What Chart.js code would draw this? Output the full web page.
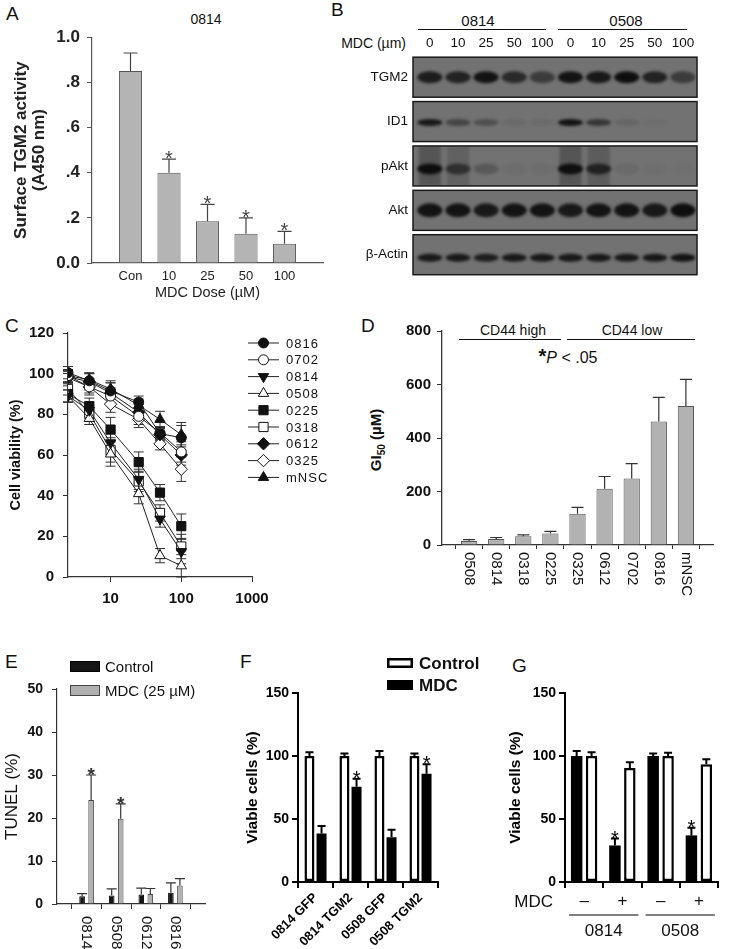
<!DOCTYPE html>
<html>
<head>
<meta charset="utf-8">
<script src="https://cdn.jsdelivr.net/npm/chart.js@4.4.1/dist/chart.umd.min.js"></script>
<style>
  body { margin: 0; width: 749px; height: 949px; position: relative; overflow: hidden; background: #fff;
         font-family: 'Liberation Sans', Arial, sans-serif; color: #111; }
  canvas { position: absolute; }
  .t { position: absolute; white-space: nowrap; transform: translate(-50%, -50%); }
  .lt { position: absolute; font-size: 19px; line-height: 1; }
  .hl { position: absolute; height: 0; border-top: 1.5px solid #111; }
</style>
</head>
<body>

<div class="lt" style="left:6px;top:4px">A</div>
<div class="lt" style="left:331px;top:0px">B</div>
<div class="lt" style="left:5px;top:316px">C</div>
<div class="lt" style="left:361px;top:316px">D</div>
<div class="lt" style="left:5px;top:652px">E</div>
<div class="lt" style="left:240px;top:652px">F</div>
<div class="lt" style="left:512px;top:656px">G</div>

<div class="t" style="left:206px;top:19px;font-size:14px">0814</div>

<div class="t" style="left:478px;top:20px;font-size:15px">0814</div>
<div class="hl" style="left:418px;top:29px;width:128px"></div>
<div class="t" style="left:626px;top:20px;font-size:15px">0508</div>
<div class="hl" style="left:558px;top:29px;width:129px"></div>
<div style="position:absolute;right:343px;top:35px;font-size:14px">MDC (µm)</div>

<div class="t" style="left:513px;top:330px;font-size:14px">CD44 high</div>
<div class="hl" style="left:459px;top:339px;width:102px"></div>
<div class="t" style="left:632px;top:330px;font-size:14px">CD44 low</div>
<div class="hl" style="left:567px;top:339px;width:128px"></div>
<div class="t" style="left:568px;top:356px;font-size:16px"><b style="font-size:20px">*</b><i>P</i> &lt; .05</div>
<div class="t" style="left:377px;top:440px;transform:translate(-50%,-50%) rotate(-90deg);font-weight:bold;font-size:15px">GI<sub style="font-size:10px">50</sub> (µM)</div>

<canvas id="cA" width="335" height="290" style="left:0;top:20px"></canvas>
<canvas id="cB" width="380" height="290" style="left:330px;top:0"></canvas>
<canvas id="cC" width="345" height="290" style="left:0;top:315px"></canvas>
<canvas id="cD" width="345" height="290" style="left:380px;top:315px"></canvas>
<canvas id="cE" width="215" height="299" style="left:0;top:650px"></canvas>
<canvas id="cF" width="245" height="299" style="left:245px;top:650px"></canvas>
<canvas id="cG" width="252" height="299" style="left:497px;top:650px"></canvas>

<script>
// ---- A: surface TGM2 activity
const aDoses = ['Con', '10', '25', '50', '100'];
const aActivity = [0.85, 0.40, 0.185, 0.13, 0.085];
const aSd = [0.08, 0.06, 0.075, 0.07, 0.055];
const aStar = [false, true, true, true, true];
const aTicks = ['0.0', '.2', '.4', '.6', '.8', '1.0'];

// ---- B: western blot (band intensity 0..1 per lane)
const blotLanes = ['0', '10', '25', '50', '100', '0', '10', '25', '50', '100'];
const blotRows = ['TGM2', 'ID1', 'pAkt', 'Akt', 'β-Actin'];
const bandTGM2 = [0.85, 0.8, 0.95, 0.72, 0.55, 0.95, 0.9, 1.0, 0.8, 0.55];
const bandID1 = [0.9, 0.45, 0.35, 0.08, 0.07, 0.95, 0.6, 0.12, 0.04, 0.0];
const bandPAkt = [1.0, 0.6, 0.25, 0.05, 0.05, 1.0, 0.75, 0.08, 0.04, 0.02];
const bandAkt = [0.95, 0.95, 0.9, 0.95, 0.95, 0.9, 0.95, 0.95, 0.9, 1.0];
const bandActin = [0.9, 0.9, 0.85, 0.9, 0.9, 0.9, 0.9, 0.9, 0.9, 0.95];

// ---- C: viability curves
const cDoses = [2.5, 5, 10, 25, 50, 100];
const cXTicks = [10, 100, 1000];
const cLines = ['0816', '0702', '0814', '0508', '0225', '0318', '0612', '0325', 'mNSC'];
const v0816 = [100.5, 96.5, 91.5, 86, 70.5, 68.5];
const v0702 = [99, 93.5, 89, 79, 71, 61.5];
const v0814 = [89, 82, 66, 48, 28.5, 12.5];
const v0508 = [89, 78, 60.5, 41, 10.5, 5.5];
const v0225 = [90, 84, 72.5, 56.5, 41.5, 25];
const v0318 = [92.5, 80.5, 62.5, 47, 31.5, 15];
const v0612 = [98.5, 96, 90.5, 81, 70, 60];
const v0325 = [98, 93.5, 85, 77.5, 65.5, 53];
const vMNSC = [99, 97, 92.5, 84.5, 77.5, 70];
const s0816 = [3, 4, 4, 3, 3, 6];
const s0702 = [3, 4, 4, 4, 3, 5];
const s0814 = [3, 4, 6, 5, 4, 6];
const s0508 = [3, 3, 6, 5, 3.5, 5.5];
const s0225 = [4, 4, 6, 5, 4, 6];
const s0318 = [3, 4, 6, 5, 4, 6];
const s0612 = [3, 4, 5, 4, 3, 5];
const s0325 = [3, 3, 4, 4, 3, 6];
const sMNSC = [3, 3, 4, 3, 4, 6];

// ---- D: GI50
const dCells = ['0508', '0814', '0318', '0225', '0325', '0612', '0702', '0816', 'mNSC'];
const dGi50 = [15, 22, 33, 43, 117, 210, 249, 462, 520];
const dSd = [5, 6, 5, 8, 24, 46, 55, 90, 99];

// ---- E: TUNEL
const eCells = ['0814', '0508', '0612', '0816'];
const eControl = [1.8, 2.0, 2.2, 2.6];
const eControlSd = [0.6, 1.5, 1.5, 2.3];
const eMdc = [24.2, 19.8, 2.3, 4.3];
const eMdcSd = [5.8, 3.5, 1.3, 1.6];
const eStar = [true, true, false, false];

// ---- F: TGM2 rescue
const fLines = ['0814 GFP', '0814 TGM2', '0508 GFP', '0508 TGM2'];
const fControl = [100, 100, 100, 100];
const fControlSd = [3, 2, 4, 2];
const fMdc = [38.5, 75.5, 35.5, 86];
const fMdcSd = [6, 6.5, 6, 7.5];
const fStar = [false, true, false, true];

// ---- G: CD44 sorted
const gMdc = ['–', '+', '–', '+'];
const gGroups = ['0814', '0508'];
const gPos = [100, 29, 100, 37];
const gPosSd = [4, 5.5, 2, 6];
const gNeg = [100, 90.5, 100, 93.5];
const gNegSd = [3, 4.5, 2.5, 4];
const gStar = [false, true, false, true];

Chart.defaults.font.family = "'Liberation Sans', Arial, sans-serif";
Chart.defaults.color = '#111';
Chart.defaults.animation = false;
Chart.defaults.responsive = false;
Chart.defaults.events = [];
Chart.defaults.plugins.legend.display = false;
Chart.defaults.plugins.tooltip.enabled = false;

// upper error bars + significance stars on bar charts
const errPlugin = {
  id: 'err',
  afterDatasetsDraw(chart, args, o) {
    const ctx = chart.ctx, ys = chart.scales.y;
    ctx.save();
    ctx.strokeStyle = o.color;
    ctx.fillStyle = o.color;
    ctx.lineWidth = o.width;
    chart.data.datasets.forEach((ds, di) => {
      chart.getDatasetMeta(di).data.forEach((bar, i) => {
        const v = ds.data[i];
        if (v == null || !ds.sd || ds.sd[i] == null) return;
        const yTop = ys.getPixelForValue(v + ds.sd[i]);
        ctx.beginPath();
        ctx.moveTo(bar.x, bar.y);
        ctx.lineTo(bar.x, yTop);
        ctx.moveTo(bar.x - o.cap, yTop);
        ctx.lineTo(bar.x + o.cap, yTop);
        ctx.stroke();
        if (ds.star && ds.star[i]) {
          ctx.font = o.starFont;
          ctx.textAlign = 'center';
          ctx.textBaseline = 'alphabetic';
          ctx.fillText('*', bar.x, yTop + o.starDy);
        }
      });
    });
    ctx.restore();
  }
};

// x labels rotated clockwise (read top to bottom)
const vertLabels = {
  id: 'vertLabels',
  afterDraw(chart, args, o) {
    const s = chart.scales.x, ctx = chart.ctx;
    ctx.save();
    ctx.font = o.font;
    ctx.fillStyle = o.color || '#111';
    ctx.textAlign = 'left';
    ctx.textBaseline = 'middle';
    s.ticks.forEach((t, i) => {
      const label = s.getLabelForValue(t.value);
      if (!label) return;
      ctx.save();
      ctx.translate(s.getPixelForTick(i), s.top + o.gap);
      ctx.rotate(Math.PI / 2);
      ctx.fillText(label, 0, 0);
      ctx.restore();
    });
    ctx.restore();
  }
};

// box legend drawn from dataset styles
const boxLegend = {
  id: 'boxLegend',
  afterDraw(chart, args, o) {
    const ctx = chart.ctx;
    ctx.save();
    ctx.font = o.font;
    ctx.textAlign = 'left';
    ctx.textBaseline = 'middle';
    chart.data.datasets.forEach((ds, i) => {
      const y = o.y + i * o.step;
      const bw = o.border;
      ctx.fillStyle = ds.backgroundColor;
      ctx.fillRect(o.x, y, o.w, o.h);
      ctx.strokeStyle = ds.borderColor;
      ctx.lineWidth = bw;
      ctx.strokeRect(o.x + bw / 2, y + bw / 2, o.w - bw, o.h - bw);
      ctx.fillStyle = '#111';
      ctx.fillText(ds.label, o.x + o.w + o.gap, y + o.h / 2 + 1);
    });
    ctx.restore();
  }
};

function fixW(w) { return s => { s.width = w; }; }
function fixH(h) { return s => { s.height = h; }; }

// ================= A
new Chart(document.getElementById('cA'), {
  type: 'bar',
  data: {
    labels: ['', ...aDoses, ''],
    datasets: [{
      data: [null, ...aActivity, null],
      sd: [null, ...aSd, null],
      star: [false, ...aStar, false],
      backgroundColor: '#b4b4b4', borderColor: '#555', borderWidth: 1,
      barPercentage: 0.6, categoryPercentage: 1
    }]
  },
  options: {
    layout: { padding: { top: 12, right: 12, bottom: 0, left: 0 } },
    plugins: { err: { color: '#444', width: 1.2, cap: 7, starFont: '20px Liberation Sans', starDy: 6 } },
    scales: {
      x: {
        offset: false,
        grid: { display: false, tickLength: 0 },
        border: { color: '#555', width: 1.2 },
        ticks: { font: { size: 13 }, color: '#222', padding: 6, maxRotation: 0, autoSkip: false },
        title: { display: true, text: 'MDC Dose (µM)', font: { size: 14.5 }, color: '#222', padding: { top: 0, bottom: 8 } },
        afterFit: fixH(47)
      },
      y: {
        min: 0, max: 1,
        ticks: { stepSize: 0.2, callback: (v, i) => aTicks[i], font: { size: 17, weight: 'bold' }, color: '#222', padding: 7 },
        grid: { drawOnChartArea: false, tickLength: 5, color: '#555' },
        border: { color: '#555', width: 1.2 },
        title: { display: true, text: ['Surface TGM2 activity', '(A450 nm)'], font: { size: 17, weight: 'bold', lineHeight: 1.08 }, color: '#222', padding: { top: 12, bottom: 0 } },
        afterFit: fixW(92)
      }
    }
  },
  plugins: [errPlugin]
});

// ================= B (blot: one scatter dataset per row, bands drawn at the point positions)
const blotBands = [bandTGM2, bandID1, bandPAkt, bandAkt, bandActin];
const blotShape = { TGM2: [12, 0], ID1: [7, 1], pAkt: [11, 3], Akt: [14, 0], 'β-Actin': [8, 3] };
const blotPlugin = {
  id: 'blot',
  beforeDatasetsDraw(chart) {
    const { ctx, chartArea: a } = chart;
    chart.data.datasets.forEach((ds, r) => {
      const pts = chart.getDatasetMeta(r).data;
      const cy = pts[0].y;
      const [bh, dy] = blotShape[ds.label];
      ctx.save();
      ctx.fillStyle = '#727272';
      ctx.fillRect(a.left, cy - 20, a.right - a.left, 40);
      ctx.beginPath();
      ctx.rect(a.left, cy - 20, a.right - a.left, 40);
      ctx.clip();
      ctx.filter = 'blur(1.6px)';
      pts.forEach((p, i) => {
        const v = ds.data[i].v;
        if (v <= 0) return;
        if (ds.label === 'pAkt' && v > 0.5) {
          ctx.fillStyle = `rgba(20,20,20,${v * 0.3})`;
          ctx.fillRect(p.x - 11, cy - 20, 22, 40);
        }
        ctx.fillStyle = `rgba(14,14,14,${v})`;
        ctx.beginPath();
        ctx.ellipse(p.x, cy + dy, 12.5, bh / 2, 0, 0, Math.PI * 2);
        ctx.fill();
      });
      ctx.restore();
      ctx.strokeStyle = '#1a1a1a';
      ctx.lineWidth = 1.5;
      ctx.strokeRect(a.left, cy - 20, a.right - a.left, 40);
    });
  }
};
new Chart(document.getElementById('cB'), {
  type: 'scatter',
  data: {
    datasets: blotRows.map((row, r) => ({
      label: row,
      data: blotBands[r].map((v, i) => ({ x: i + 1, y: row, v: v })),
      pointRadius: 0
    }))
  },
  options: {
    layout: { padding: { top: 0, right: 13, bottom: 4, left: 0 } },
    scales: {
      x: {
        type: 'linear', position: 'top', min: 0.4, max: 10.5,
        afterBuildTicks: s => { s.ticks = blotLanes.map((l, i) => ({ value: i + 1 })); },
        ticks: { callback: v => blotLanes[v - 1], font: { size: 13.5 }, padding: 4, maxRotation: 0, autoSkip: false },
        grid: { display: false, tickLength: 0 }, border: { display: false },
        afterFit: fixH(55)
      },
      y: {
        type: 'category', labels: blotRows, offset: true,
        ticks: { font: { size: 13.5 }, padding: 5 },
        grid: { display: false, tickLength: 0 }, border: { display: false },
        afterFit: fixW(83)
      }
    }
  },
  plugins: [blotPlugin]
});

// ================= C
const cVals = [v0816, v0702, v0814, v0508, v0225, v0318, v0612, v0325, vMNSC];
const cSds = [s0816, s0702, s0814, s0508, s0225, s0318, s0612, s0325, sMNSC];
const cMarks = [
  ['circle', true, 0, 5], ['circle', false, 0, 5], ['triangle', true, 180, 6], ['triangle', false, 0, 6],
  ['rect', true, 0, 6.5], ['rect', false, 0, 6.5], ['rectRot', true, 0, 6.2], ['rectRot', false, 0, 6.2],
  ['triangle', true, 0, 6]
];
const cErr = {
  id: 'cErr',
  beforeDatasetsDraw(chart) {
    const ctx = chart.ctx, ys = chart.scales.y;
    ctx.save();
    ctx.strokeStyle = '#333';
    ctx.lineWidth = 1;
    chart.data.datasets.forEach((ds, di) => {
      chart.getDatasetMeta(di).data.forEach((p, i) => {
        const v = ds.data[i].y, e = ds.sd[i];
        const y1 = ys.getPixelForValue(v + e), y2 = ys.getPixelForValue(Math.max(v - e, 0));
        ctx.beginPath();
        ctx.moveTo(p.x, y1); ctx.lineTo(p.x, y2);
        ctx.moveTo(p.x - 5, y1); ctx.lineTo(p.x + 5, y1);
        ctx.moveTo(p.x - 5, y2); ctx.lineTo(p.x + 5, y2);
        ctx.stroke();
      });
    });
    ctx.restore();
  }
};
const cLegend = {
  id: 'cLegend',
  afterDraw(chart) {
    const ctx = chart.ctx;
    ctx.save();
    ctx.font = '13px Liberation Sans';
    ctx.letterSpacing = '1px';
    ctx.textBaseline = 'middle';
    chart.data.datasets.forEach((ds, i) => {
      const y = 28 + i * 16.8;
      ctx.strokeStyle = '#222';
      ctx.lineWidth = 1;
      ctx.beginPath(); ctx.moveTo(248, y); ctx.lineTo(279, y); ctx.stroke();
      ctx.fillStyle = ds.pointBackgroundColor;
      ctx.strokeStyle = '#111';
      Chart.helpers.drawPoint(ctx, { pointStyle: ds.pointStyle, radius: ds.pointRadius, rotation: ds.pointRotation, borderWidth: 1 }, 263.5, y);
      ctx.fillStyle = '#111';
      ctx.fillText(ds.label, 286, y + 1);
    });
    ctx.restore();
  }
};
new Chart(document.getElementById('cC'), {
  type: 'line',
  data: {
    datasets: cLines.map((name, k) => ({
      label: name,
      data: cDoses.map((d, i) => ({ x: d, y: cVals[k][i] })),
      sd: cSds[k],
      borderColor: '#222', borderWidth: 1,
      pointStyle: cMarks[k][0], pointRotation: cMarks[k][2], pointRadius: cMarks[k][3],
      pointBackgroundColor: cMarks[k][1] ? '#111' : '#fff', pointBorderColor: '#111', pointBorderWidth: 1
    }))
  },
  options: {
    layout: { padding: { top: 17, right: 93, bottom: 0, left: 0 } },
    scales: {
      x: {
        type: 'logarithmic', min: 2.5, max: 1000,
        afterBuildTicks: s => { s.ticks = cXTicks.map(v => ({ value: v })); },
        ticks: { callback: v => String(v), font: { size: 15, weight: 'bold' }, padding: 8, maxRotation: 0 },
        grid: { drawOnChartArea: false, tickLength: 5, color: '#333' },
        border: { color: '#333', width: 1.2 },
        afterFit: fixH(28)
      },
      y: {
        min: 0, max: 120,
        ticks: { stepSize: 20, font: { size: 15, weight: 'bold' }, padding: 9 },
        grid: { drawOnChartArea: false, tickLength: 5, color: '#333' },
        border: { color: '#333', width: 1.2 },
        title: { display: true, text: 'Cell viability (%)', font: { size: 14.5, weight: 'bold' }, padding: { top: 7, bottom: 0 } },
        afterFit: fixW(68)
      }
    }
  },
  plugins: [cErr, cLegend]
});

// ================= D
new Chart(document.getElementById('cD'), {
  type: 'bar',
  data: {
    labels: ['', ...dCells, ''],
    datasets: [{
      data: [null, ...dGi50, null],
      sd: [null, ...dSd, null],
      backgroundColor: '#b2b2b2', borderColor: '#555', borderWidth: 1,
      barPercentage: 0.6, categoryPercentage: 1
    }]
  },
  options: {
    layout: { padding: { top: 16, right: 12, bottom: 0, left: 0 } },
    plugins: {
      err: { color: '#333', width: 1.2, cap: 6, starFont: '18px Liberation Sans', starDy: 5 },
      vertLabels: { font: '15px Liberation Sans', gap: 7 }
    },
    scales: {
      x: {
        offset: false,
        afterBuildTicks: s => { s.ticks = s.ticks.filter(t => t.value > 0 && t.value <= dCells.length); },
        ticks: { display: false },
        grid: { drawOnChartArea: false, tickLength: 4, color: '#333' },
        border: { color: '#333', width: 1.3 },
        afterFit: fixH(60)
      },
      y: {
        min: 0, max: 800,
        ticks: { stepSize: 200, font: { size: 15, weight: 'bold' }, padding: 6 },
        grid: { drawOnChartArea: false, tickLength: 5, color: '#333' },
        border: { color: '#333', width: 1.3 },
        afterFit: fixW(62)
      }
    }
  },
  plugins: [errPlugin, vertLabels]
});

// ================= E
new Chart(document.getElementById('cE'), {
  type: 'bar',
  data: {
    labels: ['', ...eCells, ''],
    datasets: [
      { label: 'Control', data: [null, ...eControl, null], sd: [null, ...eControlSd, null],
        backgroundColor: '#151515', borderColor: '#000', borderWidth: 1 },
      { label: 'MDC (25 µM)', data: [null, ...eMdc, null], sd: [null, ...eMdcSd, null], star: [false, ...eStar, false],
        backgroundColor: '#b0b0b0', borderColor: '#444', borderWidth: 1 }
    ]
  },
  options: {
    datasets: { bar: { categoryPercentage: 0.61, barPercentage: 0.62 } },
    layout: { padding: { top: 39, right: 10, bottom: 0, left: 0 } },
    plugins: {
      err: { color: '#333', width: 1.2, cap: 5, starFont: 'bold 19px Liberation Sans', starDy: 6 },
      vertLabels: { font: '15px Liberation Sans', gap: 12 },
      boxLegend: { x: 70, y: 11, w: 30, h: 11, step: 24, gap: 5, border: 1, font: '15px Liberation Sans' }
    },
    scales: {
      x: {
        offset: false,
        afterBuildTicks: s => { s.ticks = s.ticks.filter(t => t.value > 0 && t.value <= eCells.length); },
        ticks: { display: false },
        grid: { drawOnChartArea: false, tickLength: 5, color: '#333' },
        border: { color: '#333', width: 1.2 },
        afterFit: fixH(45)
      },
      y: {
        min: 0, max: 50,
        ticks: { stepSize: 10, font: { size: 14, weight: 'bold' }, padding: 9 },
        grid: { drawOnChartArea: false, tickLength: 5, color: '#333' },
        border: { color: '#333', width: 1.2 },
        title: { display: true, text: 'TUNEL (%)', font: { size: 17 }, padding: { top: 2, bottom: 0 } },
        afterFit: fixW(57)
      }
    }
  },
  plugins: [errPlugin, vertLabels, boxLegend]
});

// ================= F
new Chart(document.getElementById('cF'), {
  type: 'bar',
  data: {
    labels: fLines,
    datasets: [
      { label: 'Control', data: fControl, sd: fControlSd, backgroundColor: '#fff', borderColor: '#000', borderWidth: 2.5, borderSkipped: false },
      { label: 'MDC', data: fMdc, sd: fMdcSd, star: fStar, backgroundColor: '#000', borderColor: '#000', borderWidth: 0 }
    ]
  },
  options: {
    datasets: { bar: { categoryPercentage: 0.69, barPercentage: 0.83 } },
    layout: { padding: { top: 43, right: 52, bottom: 0, left: 0 } },
    plugins: {
      err: { color: '#000', width: 2, cap: 4, starFont: '20px Liberation Sans', starDy: 6 },
      boxLegend: { x: 142, y: 8, w: 26, h: 10, step: 22, gap: 6, border: 2.5, font: 'bold 17px Liberation Sans' }
    },
    scales: {
      x: {
        ticks: { font: { size: 13, weight: 'bold' }, color: '#000', minRotation: 45, maxRotation: 45, padding: 2, autoSkip: false },
        grid: { drawOnChartArea: false, tickLength: 6, color: '#000', lineWidth: 2 },
        border: { color: '#000', width: 2 },
        afterFit: fixH(67)
      },
      y: {
        min: 0, max: 150,
        ticks: { stepSize: 50, font: { size: 14, weight: 'bold' }, color: '#000', padding: 3 },
        grid: { drawOnChartArea: false, tickLength: 6, color: '#000', lineWidth: 2 },
        border: { color: '#000', width: 2 },
        title: { display: true, text: 'Viable cells (%)', font: { size: 15.5, weight: 'bold' }, color: '#000', padding: { top: -2, bottom: 0 } },
        afterFit: fixW(53)
      }
    }
  },
  plugins: [errPlugin, boxLegend]
});

// ================= G
const gGroupLabels = {
  id: 'gGroups',
  afterDraw(chart) {
    const ctx = chart.ctx, s = chart.scales.x;
    ctx.save();
    ctx.font = '17px Liberation Sans';
    ctx.fillStyle = '#111';
    ctx.textBaseline = 'middle';
    ctx.textAlign = 'right';
    ctx.fillText('MDC', chart.chartArea.left - 12, 252);
    ctx.textAlign = 'center';
    ctx.strokeStyle = '#555';
    ctx.lineWidth = 1.5;
    gGroups.forEach((g, k) => {
      const x1 = s.getPixelForTick(2 * k) - 15, x2 = s.getPixelForTick(2 * k + 1) + 16;
      ctx.beginPath(); ctx.moveTo(x1, 265); ctx.lineTo(x2, 265); ctx.stroke();
      ctx.fillText(g, (x1 + x2) / 2, 281);
    });
    ctx.restore();
  }
};
new Chart(document.getElementById('cG'), {
  type: 'bar',
  data: {
    labels: gMdc,
    datasets: [
      { label: 'CD44+', data: gPos, sd: gPosSd, star: gStar, backgroundColor: '#000', borderColor: '#000', borderWidth: 0 },
      { label: 'CD44-', data: gNeg, sd: gNegSd, backgroundColor: '#fff', borderColor: '#000', borderWidth: 2.5, borderSkipped: false }
    ]
  },
  options: {
    datasets: { bar: { categoryPercentage: 0.78, barPercentage: 0.77 } },
    layout: { padding: { top: 43, right: 31, bottom: 0, left: 0 } },
    plugins: {
      err: { color: '#000', width: 2, cap: 4, starFont: '20px Liberation Sans', starDy: 6 },
      boxLegend: { x: 178, y: 9, w: 18, h: 10, step: 21, gap: 10, border: 2.5, font: 'bold 17px Liberation Sans' }
    },
    scales: {
      x: {
        ticks: { font: { size: 17 }, color: '#111', maxRotation: 0, padding: 3, autoSkip: false },
        grid: { drawOnChartArea: false, tickLength: 6, color: '#000', lineWidth: 2 },
        border: { color: '#000', width: 2 },
        afterFit: fixH(67)
      },
      y: {
        min: 0, max: 150,
        ticks: { stepSize: 50, font: { size: 14, weight: 'bold' }, color: '#000', padding: 3 },
        grid: { drawOnChartArea: false, tickLength: 6, color: '#000', lineWidth: 2 },
        border: { color: '#000', width: 2 },
        title: { display: true, text: 'Viable cells (%)', font: { size: 15.5, weight: 'bold' }, color: '#000', padding: { top: 9, bottom: 0 } },
        afterFit: fixW(68)
      }
    }
  },
  plugins: [errPlugin, gGroupLabels]
});
</script>
</body>
</html>
